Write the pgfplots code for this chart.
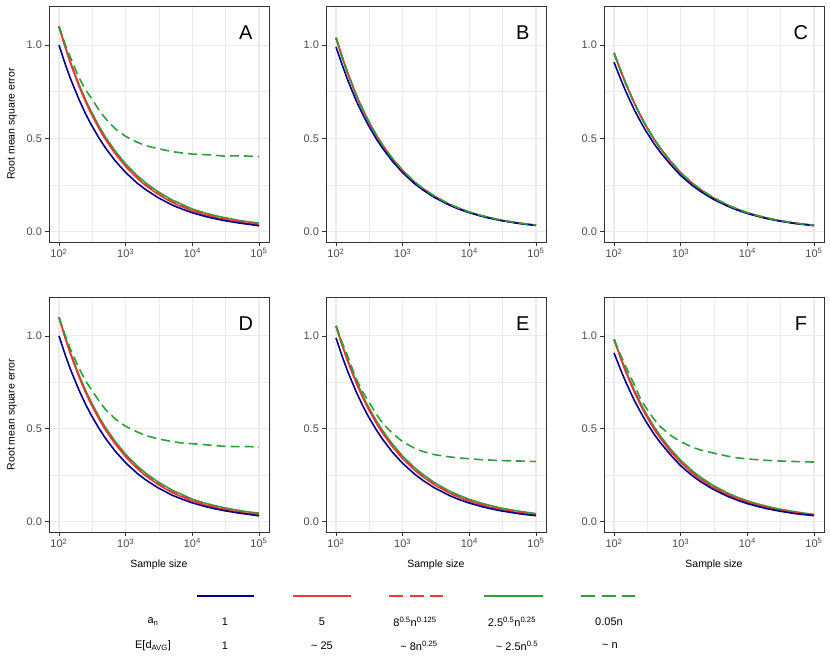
\documentclass[border=0pt]{standalone}
\usepackage{pgfplots}
\usepackage{pgfplotstable}
\pgfplotsset{compat=1.18}
\usepackage{fontspec}
\setmainfont{Liberation Sans}
\definecolor{cblue}{HTML}{00008B}
\definecolor{cred}{HTML}{E43B36}
\definecolor{cgreen}{HTML}{2E9F3A}
\definecolor{gridc}{HTML}{EBEBEB}
\definecolor{framec}{HTML}{333333}
\definecolor{tickc}{HTML}{4D4D4D}

\pgfplotstableread{
n blue red reddash green greendash
100 1.000 1.100 1.100 1.100 1.100
125 0.894 0.984 0.988 0.990 1.000
150 0.816 0.898 0.903 0.905 0.930
200 0.707 0.778 0.783 0.788 0.825
250 0.632 0.696 0.701 0.707 0.760
300 0.577 0.635 0.640 0.648 0.720
400 0.500 0.550 0.555 0.563 0.650
500 0.447 0.492 0.497 0.505 0.605
700 0.378 0.416 0.421 0.430 0.550
1000 0.316 0.348 0.352 0.362 0.510
1500 0.258 0.284 0.288 0.298 0.478
2000 0.224 0.246 0.250 0.260 0.460
3000 0.183 0.201 0.205 0.215 0.445
5000 0.141 0.155 0.159 0.168 0.428
7000 0.120 0.132 0.136 0.145 0.421
10000 0.100 0.110 0.114 0.120 0.415
15000 0.082 0.090 0.094 0.100 0.412
20000 0.071 0.078 0.082 0.088 0.410
30000 0.058 0.064 0.068 0.074 0.404
50000 0.045 0.050 0.054 0.059 0.406
70000 0.038 0.042 0.046 0.051 0.404
100000 0.030 0.036 0.039 0.045 0.401
}\tA

\pgfplotstableread{
n blue red reddash green greendash
100 0.990 1.038 1.038 1.040 1.040
125 0.890 0.930 0.931 0.932 0.932
150 0.812 0.848 0.849 0.850 0.850
200 0.703 0.732 0.733 0.734 0.734
250 0.630 0.655 0.656 0.657 0.657
300 0.575 0.597 0.598 0.599 0.599
400 0.498 0.516 0.517 0.518 0.518
500 0.446 0.461 0.462 0.463 0.463
700 0.377 0.389 0.390 0.391 0.391
1000 0.315 0.325 0.326 0.327 0.327
1500 0.257 0.264 0.265 0.266 0.266
2000 0.223 0.229 0.230 0.231 0.231
3000 0.182 0.187 0.188 0.189 0.189
5000 0.141 0.144 0.145 0.146 0.146
7000 0.119 0.122 0.123 0.124 0.124
10000 0.100 0.102 0.103 0.104 0.104
15000 0.082 0.083 0.084 0.085 0.085
20000 0.071 0.072 0.073 0.074 0.074
30000 0.058 0.059 0.060 0.060 0.060
50000 0.045 0.046 0.046 0.047 0.047
70000 0.038 0.039 0.039 0.040 0.040
100000 0.032 0.033 0.033 0.034 0.034
}\tB

\pgfplotstableread{
n blue red reddash green greendash
100 0.908 0.957 0.957 0.958 0.958
125 0.820 0.865 0.866 0.867 0.867
150 0.752 0.793 0.794 0.795 0.795
200 0.655 0.690 0.691 0.692 0.692
250 0.590 0.620 0.621 0.622 0.622
300 0.540 0.567 0.568 0.569 0.569
400 0.470 0.493 0.494 0.495 0.495
500 0.423 0.443 0.444 0.445 0.445
700 0.360 0.376 0.377 0.378 0.378
1000 0.300 0.313 0.314 0.315 0.315
1500 0.246 0.256 0.257 0.258 0.258
2000 0.214 0.222 0.223 0.224 0.224
3000 0.175 0.181 0.182 0.183 0.183
5000 0.136 0.140 0.141 0.142 0.142
7000 0.115 0.119 0.120 0.120 0.120
10000 0.096 0.099 0.100 0.100 0.100
15000 0.079 0.081 0.082 0.082 0.082
20000 0.068 0.070 0.071 0.071 0.071
30000 0.056 0.057 0.058 0.058 0.058
50000 0.043 0.044 0.045 0.045 0.045
70000 0.037 0.038 0.038 0.039 0.039
100000 0.031 0.032 0.032 0.033 0.033
}\tC

\pgfplotstableread{
n blue red reddash green greendash
100 1.000 1.100 1.100 1.100 1.100
125 0.894 0.984 0.988 0.990 1.000
150 0.816 0.898 0.903 0.905 0.925
200 0.707 0.778 0.783 0.788 0.825
250 0.632 0.696 0.701 0.707 0.758
300 0.577 0.635 0.640 0.648 0.715
400 0.500 0.550 0.555 0.563 0.648
500 0.447 0.492 0.497 0.505 0.603
700 0.378 0.416 0.421 0.430 0.552
1000 0.316 0.348 0.352 0.362 0.513
1500 0.258 0.284 0.288 0.298 0.482
2000 0.224 0.246 0.250 0.260 0.463
3000 0.183 0.201 0.205 0.215 0.446
5000 0.141 0.155 0.159 0.168 0.430
7000 0.120 0.132 0.136 0.145 0.423
10000 0.100 0.110 0.114 0.120 0.419
15000 0.082 0.090 0.094 0.100 0.414
20000 0.071 0.078 0.082 0.088 0.410
30000 0.058 0.064 0.068 0.074 0.405
50000 0.045 0.050 0.054 0.059 0.403
70000 0.038 0.042 0.046 0.051 0.404
100000 0.030 0.036 0.039 0.045 0.400
}\tD

\pgfplotstableread{
n blue red reddash green greendash
100 0.989 1.054 1.054 1.054 1.054
125 0.885 0.944 0.947 0.950 0.960
150 0.808 0.862 0.866 0.870 0.890
200 0.700 0.748 0.752 0.758 0.770
250 0.626 0.670 0.674 0.681 0.700
300 0.571 0.612 0.616 0.624 0.654
400 0.495 0.531 0.535 0.544 0.580
500 0.443 0.476 0.480 0.490 0.530
700 0.374 0.403 0.407 0.418 0.475
1000 0.313 0.338 0.342 0.352 0.430
1500 0.256 0.277 0.281 0.290 0.395
2000 0.222 0.241 0.244 0.254 0.377
3000 0.181 0.197 0.200 0.209 0.360
5000 0.140 0.153 0.156 0.164 0.348
7000 0.118 0.130 0.133 0.141 0.342
10000 0.099 0.109 0.112 0.119 0.338
15000 0.081 0.089 0.092 0.099 0.333
20000 0.070 0.077 0.080 0.087 0.331
30000 0.057 0.063 0.066 0.072 0.328
50000 0.044 0.049 0.052 0.058 0.326
70000 0.037 0.041 0.044 0.050 0.325
100000 0.031 0.035 0.037 0.042 0.323
}\tE

\pgfplotstableread{
n blue red reddash green greendash
100 0.909 0.982 0.982 0.982 0.982
125 0.820 0.882 0.885 0.888 0.900
150 0.752 0.806 0.809 0.814 0.835
200 0.655 0.700 0.703 0.710 0.740
250 0.590 0.627 0.630 0.638 0.660
300 0.540 0.573 0.576 0.585 0.615
400 0.470 0.497 0.500 0.510 0.550
500 0.423 0.446 0.449 0.459 0.510
700 0.360 0.378 0.381 0.391 0.465
1000 0.300 0.317 0.320 0.330 0.430
1500 0.246 0.260 0.263 0.272 0.400
2000 0.214 0.226 0.229 0.238 0.385
3000 0.175 0.185 0.188 0.196 0.370
5000 0.136 0.144 0.147 0.154 0.352
7000 0.115 0.122 0.125 0.131 0.343
10000 0.096 0.102 0.105 0.111 0.337
15000 0.079 0.084 0.087 0.092 0.332
20000 0.068 0.073 0.076 0.081 0.329
30000 0.056 0.060 0.063 0.067 0.326
50000 0.043 0.046 0.049 0.053 0.323
70000 0.037 0.039 0.042 0.045 0.322
100000 0.031 0.033 0.035 0.038 0.320
}\tF

\pgfplotsset{
  /pgfplots/mypanel/.style={
    scale only axis, width=220pt, height=236pt,
    xmin=70.79, xmax=141254, ymin=-0.057, ymax=1.21,
    axis line style={framec, line width=0.85pt},
    tick align=outside, tick pos=left,
    major tick length=3.6pt, minor tick length=0pt,
    every tick/.style={framec, line width=0.85pt},
    xtick={100,1000,10000,100000},
    xticklabels={10\textsuperscript{2},10\textsuperscript{3},10\textsuperscript{4},10\textsuperscript{5}},
    minor xtick={316.23,3162.3,31623},
    ytick={0,0.5,1}, yticklabels={0.0,0.5,1.0},
    minor ytick={0.25,0.75},
    grid=both,
    major grid style={gridc, line width=1.1pt},
    minor grid style={gridc, line width=0.55pt},
    ticklabel style={font=\fontsize{11}{13}\selectfont, text=tickc},
    xticklabel style={yshift=0.5pt},
    label style={font=\fontsize{10.5}{12}\selectfont},
    y label style={at={(axis description cs:-0.168,0.5)}, anchor=center},
    x label style={at={(axis description cs:0.5,-0.14)}, anchor=center},
  },
}

\newcommand{\curves}[1]{%
  \addplot[cgreen, line width=1.6pt, no markers] table[x=n,y=green]{#1};
  \addplot[cred, dash pattern=on 9pt off 5pt, line width=1.6pt, no markers] table[x=n,y=reddash]{#1};
  \addplot[cred, line width=1.6pt, no markers] table[x=n,y=red]{#1};
  \addplot[cblue, line width=1.6pt, no markers] table[x=n,y=blue]{#1};
  \addplot[cgreen, dash pattern=on 9pt off 5pt, line width=1.6pt, no markers] table[x=n,y=greendash]{#1};
}
\newcommand{\panelletter}[1]{\node[font=\fontsize{20}{20}\selectfont] at (rel axis cs:0.895,0.886) {#1};}

\begin{document}
\begin{tikzpicture}
\useasboundingbox (0pt,0pt) rectangle (830pt,663pt);
% row 1
\begin{semilogxaxis}[mypanel, at={(49pt,421pt)}, anchor=south west, ylabel={Root mean square error}]
\curves{\tA}
\panelletter{A}
\end{semilogxaxis}
\begin{semilogxaxis}[mypanel, at={(326pt,421pt)}, anchor=south west]
\curves{\tB}
\panelletter{B}
\end{semilogxaxis}
\begin{semilogxaxis}[mypanel, at={(604pt,421pt)}, anchor=south west]
\curves{\tC}
\panelletter{C}
\end{semilogxaxis}
% row 2
\begin{semilogxaxis}[mypanel, height=235pt, at={(49pt,131pt)}, anchor=south west, ylabel={Root mean square error}, xlabel={Sample size}]
\curves{\tD}
\panelletter{D}
\end{semilogxaxis}
\begin{semilogxaxis}[mypanel, height=235pt, at={(326pt,131pt)}, anchor=south west, xlabel={Sample size}]
\curves{\tE}
\panelletter{E}
\end{semilogxaxis}
\begin{semilogxaxis}[mypanel, height=235pt, at={(604pt,131pt)}, anchor=south west, xlabel={Sample size}]
\curves{\tF}
\panelletter{F}
\end{semilogxaxis}
% legend
\begin{scope}[line width=2pt]
\draw[cblue] (197pt,67pt) -- (254pt,67pt);
\draw[cred] (293pt,67pt) -- (351pt,67pt);
\draw[cred, dash pattern=on 14pt off 6.5pt] (389pt,67pt) -- (443pt,67pt);
\draw[cgreen] (484pt,67pt) -- (543pt,67pt);
\draw[cgreen, dash pattern=on 14pt off 6.5pt] (581pt,67pt) -- (635pt,67pt);
\end{scope}
\begin{scope}[every node/.style={font=\fontsize{11}{13}\selectfont, inner sep=0pt}]
\node at (153pt,41.3pt) {a\textsubscript{n}};
\node at (225pt,41.3pt) {1};
\node at (322pt,41.3pt) {5};
\node at (415pt,41.3pt) {8\textsuperscript{0.5}n\textsuperscript{0.125}};
\node at (512pt,41.3pt) {2.5\textsuperscript{0.5}n\textsuperscript{0.25}};
\node at (609pt,41.3pt) {0.05n};
\node at (153pt,17pt) {E[d\textsubscript{AVG}]};
\node at (225pt,17pt) {1};
\node at (322pt,17pt) {\textasciitilde\ 25};
\node at (419pt,17pt) {\textasciitilde\ 8n\textsuperscript{0.25}};
\node at (517pt,17pt) {\textasciitilde\ 2.5n\textsuperscript{0.5}};
\node at (610pt,17pt) {\textasciitilde\ n};
\end{scope}
\end{tikzpicture}
\end{document}
